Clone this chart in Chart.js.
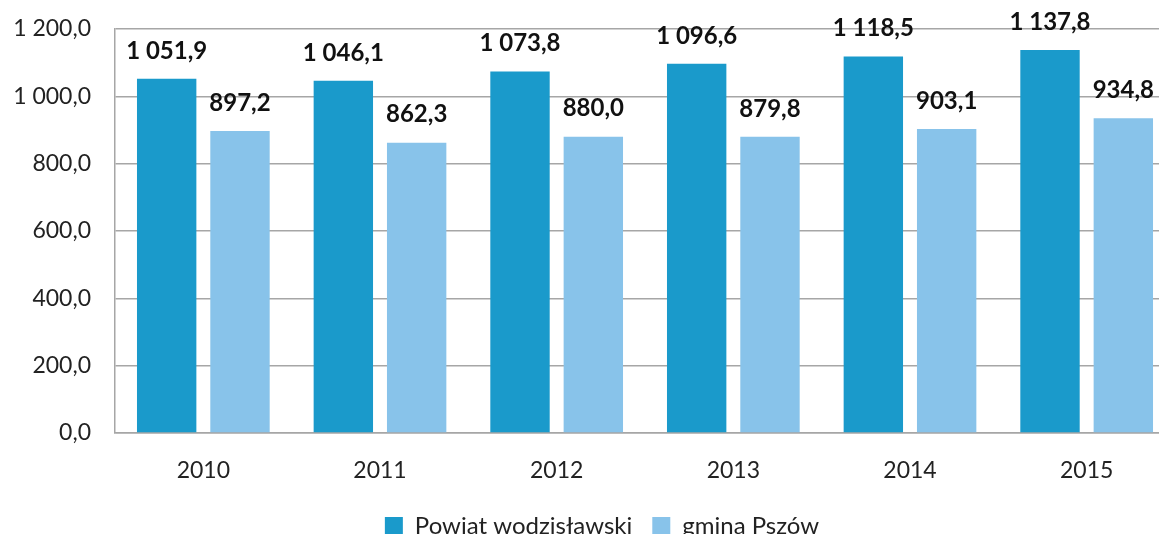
<!DOCTYPE html>
<html>
<head>
<meta charset="utf-8">
<script src="https://cdn.jsdelivr.net/npm/chart.js@4.4.1/dist/chart.umd.min.js"></script>
<style>
  html, body { margin: 0; padding: 0; background: #fff; overflow: hidden; }
  #wrap { width: 1204px; height: 548px; }
</style>
</head>
<body>
<div id="wrap"><canvas id="chart"></canvas></div>
<script>
// chart data
const years = ['2010', '2011', '2012', '2013', '2014', '2015'];
const powiatValues = [1051.9, 1046.1, 1073.8, 1096.6, 1118.5, 1137.8];
const gminaValues = [897.2, 862.3, 880.0, 879.8, 903.1, 934.8];
const yTicks = [0, 200, 400, 600, 800, 1000, 1200];

// polish number format: "1 200,0"
function fmt(v) {
    const parts = v.toFixed(1).split('.');
    const intPart = parts[0].replace(/\B(?=(\d{3})+(?!\d))/g, ' ');
    return intPart + ',' + parts[1];
}

// values drawn above the bars
const barValues = {
    id: 'barValues',
    afterDatasetsDraw(chart) {
        const ctx = chart.ctx;
        ctx.save();
        ctx.font = 'bold 24px Lato';
        ctx.fillStyle = '#111';
        ctx.textAlign = 'center';
        ctx.textBaseline = 'bottom';
        chart.data.datasets.forEach((ds, i) => {
            chart.getDatasetMeta(i).data.forEach((bar, j) => {
                ctx.fillText(fmt(ds.data[j]), bar.x, bar.y - 16);
            });
        });
        ctx.restore();
    }
};

const ctx = document.getElementById('chart').getContext('2d');
const chart = new Chart(ctx, {
    type: 'bar',
    data: {
        labels: years,
        datasets: [{
            label: 'Powiat wodzisławski',
            data: powiatValues,
            backgroundColor: '#1a9acb'
        }, {
            label: 'gmina Pszów',
            data: gminaValues,
            backgroundColor: '#88c3ea'
        }]
    },
    options: {
        responsive: true,
        maintainAspectRatio: false,
        animation: false,
        layout: { padding: { top: 29, right: 0, left: 0, bottom: 0 } },
        datasets: {
            bar: { categoryPercentage: 0.83, barPercentage: 0.81 }
        },
        scales: {
            x: {
                grid: { display: false },
                border: { color: '#a6a6a6', width: 1.5 },
                ticks: { color: '#222', font: { family: 'Lato', size: 23 }, padding: 16 },
                afterFit(scale) { scale.height = 61; }
            },
            y: {
                min: 0,
                max: 1200,
                afterBuildTicks(scale) { scale.ticks = yTicks.map(v => ({ value: v })); },
                grid: { color: '#a6a6a6', lineWidth: 1.5, drawTicks: false },
                border: { color: '#a6a6a6', width: 1.5 },
                ticks: {
                    color: '#222',
                    font: { family: 'Lato', size: 23 },
                    padding: 24,
                    callback: v => fmt(v)
                },
                afterFit(scale) {
                    scale.width = 115;
                    scale.paddingTop = 0;
                    scale.paddingBottom = 0;
                }
            },
            // empty spacer on the right so the plot ends before the canvas edge
            spacer: {
                type: 'linear',
                position: 'right',
                grid: { display: false },
                border: { display: false },
                ticks: { display: false },
                afterFit(scale) {
                    scale.width = 29;
                    scale.paddingTop = 0;
                    scale.paddingBottom = 0;
                }
            }
        },
        plugins: {
            legend: {
                position: 'bottom',
                labels: {
                    color: '#222',
                    font: { family: 'Lato', size: 24 },
                    boxWidth: 18,
                    boxHeight: 18,
                    padding: 20
                }
            },
            tooltip: { enabled: false }
        }
    },
    plugins: [barValues]
});
</script>
</body>
</html>
